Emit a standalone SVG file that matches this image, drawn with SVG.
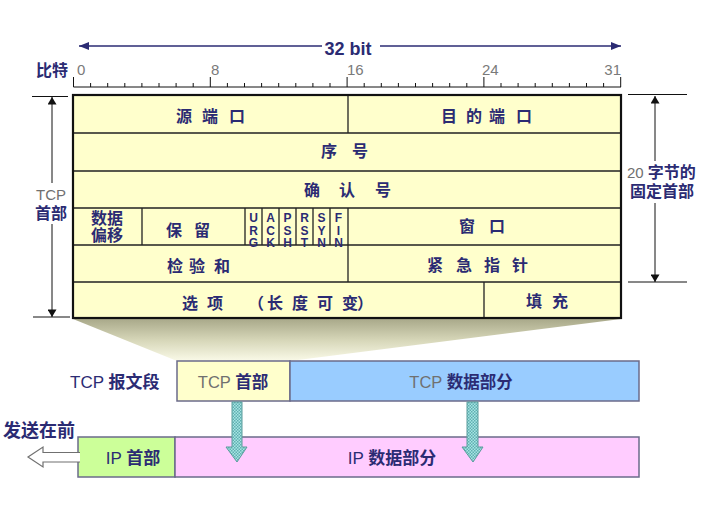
<svg xmlns="http://www.w3.org/2000/svg" width="714" height="510" viewBox="0 0 714 510">
<style>
.cjk{font-family:"Noto Sans CJK SC","Noto Sans",sans-serif;font-weight:bold;fill:#2B2B73;}
.lat{font-family:"Liberation Sans",Arial,sans-serif;}
.gray{fill:#707070;font-weight:normal;}
.num{font-family:"Liberation Sans",Arial,sans-serif;font-size:15px;fill:#7a7a7a;}
.flag{font-family:"Liberation Sans",Arial,sans-serif;font-weight:bold;font-size:12px;letter-spacing:-1.5px;fill:#2B2B73;writing-mode:vertical-rl;text-orientation:upright;}
.cell{fill:#FFFFCC;}
.ln{stroke:#222;stroke-width:1.3;fill:none;}
.thin{stroke:#111;stroke-width:1;fill:none;}
.seg{stroke:#6B6B8A;stroke-width:1.5;}
.cyan{fill:url(#dots);stroke:#5A9C9C;stroke-width:1;}
</style>
<defs>
<marker id="ahB" viewBox="0 0 10 10" refX="10" refY="5" markerWidth="10" markerHeight="10" markerUnits="userSpaceOnUse" orient="auto-start-reverse"><path d="M0,1 L10,5 L0,9 z" fill="#2B2B73"/></marker>
<marker id="ahK" viewBox="0 0 10 12" refX="10" refY="6" markerWidth="11" markerHeight="9" markerUnits="userSpaceOnUse" orient="auto-start-reverse"><path d="M0,0 L10,6 L0,12 z" fill="#111"/></marker>
<linearGradient id="fan" x1="0" y1="0" x2="0" y2="1"><stop offset="0" stop-color="#A9A98A"/><stop offset="0.5" stop-color="#D6D6B8"/><stop offset="1" stop-color="#FAFAE8"/></linearGradient>
<pattern id="dots" width="3" height="3" patternUnits="userSpaceOnUse"><rect width="3" height="3" fill="#A8E4E4"/><rect width="1.5" height="1.5" fill="#5FB0B0"/><rect x="1.5" y="1.5" width="1.5" height="1.5" fill="#5FB0B0"/></pattern>
</defs>

<g id="ruler">
<line x1="322" y1="46" x2="79" y2="46" stroke="#2B2B73" stroke-width="1.3" marker-end="url(#ahB)"/>
<line x1="380" y1="46" x2="621" y2="46" stroke="#2B2B73" stroke-width="1.3" marker-end="url(#ahB)"/>
<text x="348" y="55" class="lat" font-size="18" font-weight="bold" fill="#2B2B73" text-anchor="middle">32 bit</text>
<text x="36" y="76" class="cjk" font-size="16">比特</text>
<text x="77" y="75" class="num">0</text>
<text x="211" y="75" class="num">8</text>
<text x="347" y="75" class="num">16</text>
<text x="482" y="75" class="num">24</text>
<text x="621" y="75" class="num" text-anchor="end">31</text>
<path class="thin" d="M73.5,87 H621 M73.5,77 V87 M210.3,77 V87 M347.1,77 V87 M483.9,77 V87 M620.7,77 V87
M90.6,83 V87 M107.7,83 V87 M124.8,83 V87 M141.9,83 V87 M159,83 V87 M176.1,83 V87 M193.2,83 V87
M227.4,83 V87 M244.5,83 V87 M261.6,83 V87 M278.7,83 V87 M295.8,83 V87 M312.9,83 V87 M330,83 V87
M364.2,83 V87 M381.3,83 V87 M398.4,83 V87 M415.5,83 V87 M432.6,83 V87 M449.7,83 V87 M466.8,83 V87
M501,83 V87 M518.1,83 V87 M535.2,83 V87 M552.3,83 V87 M569.4,83 V87 M586.5,83 V87 M603.6,83 V87"/>
</g>

<g id="funnel"><polygon points="73,319 621,319 290,361 177,361" fill="url(#fan)"/></g>

<g id="header-table">
<rect x="73" y="95" width="548" height="223" class="cell"/>
<path class="ln" d="M73,133 H621 M73,171 H621 M73,208 H621 M73,245 H621 M73,282 H621
M348,95 V133 M348,208 V282 M484,282 V318
M142,208 V245 M245,208 V245 M262,208 V245 M279,208 V245 M296,208 V245 M313,208 V245 M330,208 V245"/>
<rect x="73" y="95" width="548" height="223" fill="none" stroke="#111" stroke-width="2.2"/>
</g>

<g id="src-port"><text class="cjk" font-size="16" y="121.5" x="176 192 202 218 229">源 端 口</text></g>
<g id="dst-port"><text class="cjk" font-size="16" y="121.5" x="441 457 466 482 489 505 516">目 的 端 口</text></g>
<g id="seq"><text class="cjk" font-size="16" y="157" x="321 337 352">序 号</text></g>
<g id="ack"><text class="cjk" font-size="16" y="196" x="304 320 339 355 375">确 认 号</text></g>
<g id="offset"><text class="cjk" font-size="16"><tspan x="91" y="224">数据</tspan><tspan x="91" y="241">偏移</tspan></text></g>
<g id="reserved"><text class="cjk" font-size="16" y="236" x="166 182 194">保 留</text></g>
<g id="flags">
<text class="flag" x="253.5" y="211">URG</text>
<text class="flag" x="270.5" y="211">ACK</text>
<text class="flag" x="287.5" y="211">PSH</text>
<text class="flag" x="304.5" y="211">RST</text>
<text class="flag" x="321.5" y="211">SYN</text>
<text class="flag" x="338.5" y="211">FIN</text>
</g>
<g id="window"><text class="cjk" font-size="16" y="232" x="459 475 489">窗 口</text></g>
<g id="checksum"><text class="cjk" font-size="16" y="272" x="167 183 189 205 214">检 验 和</text></g>
<g id="urgent"><text class="cjk" font-size="16" y="271" x="427 443 456 472 484 500 512">紧 急 指 针</text></g>
<g id="options"><text class="cjk" font-size="16" y="308.5" x="182 198 207 223 248 267 283 292 308 317 333 342 357">选 项 （长 度 可 变）</text></g>
<g id="padding"><text class="cjk" font-size="16" y="306.5" x="526 542 552">填 充</text></g>

<g id="tcp-header-dim">
<path class="thin" d="M32,96.5 H68 M33,317 H70"/>
<line x1="52" y1="183" x2="52" y2="97" stroke="#111" stroke-width="1" marker-end="url(#ahK)"/>
<line x1="52" y1="224" x2="52" y2="317" stroke="#111" stroke-width="1" marker-end="url(#ahK)"/>
<text x="51" y="200" class="lat gray" font-size="15" text-anchor="middle">TCP</text>
<text x="51" y="219" class="cjk" font-size="16" text-anchor="middle">首部</text>
</g>

<g id="fixed-header-dim">
<path class="thin" d="M628,94.5 H687 M628,282 H687"/>
<line x1="655" y1="161" x2="655" y2="96" stroke="#111" stroke-width="1" marker-end="url(#ahK)"/>
<line x1="655" y1="203" x2="655" y2="282" stroke="#111" stroke-width="1" marker-end="url(#ahK)"/>
<text x="627" y="178" font-size="15"><tspan class="lat gray">20 </tspan><tspan class="cjk" font-size="16">字节的</tspan></text>
<text x="630" y="197" class="cjk" font-size="16">固定首部</text>
</g>

<g id="tcp-segment-label"><text x="70" y="388" font-size="17"><tspan class="lat" fill="#2B2B73">TCP </tspan><tspan class="cjk">报文段</tspan></text></g>
<g id="tcp-header-box">
<rect x="177" y="361" width="113" height="40" fill="#FFFFCC" class="seg"/>
<text x="233" y="388" font-size="16.5" text-anchor="middle"><tspan class="lat gray">TCP </tspan><tspan class="cjk">首部</tspan></text>
</g>
<g id="tcp-data-box">
<rect x="290" y="361" width="349" height="40" fill="#99CCFF" class="seg"/>
<text x="461" y="388" font-size="16.5" text-anchor="middle"><tspan class="lat gray">TCP </tspan><tspan class="cjk">数据部分</tspan></text>
</g>
<g id="ip-header-box">
<rect x="78" y="437" width="97" height="40" fill="#CCFF99" class="seg"/>
<text x="133" y="464" font-size="17" text-anchor="middle"><tspan class="lat" fill="#2B2B73">IP </tspan><tspan class="cjk">首部</tspan></text>
</g>
<g id="ip-data-box">
<rect x="175" y="437" width="464" height="40" fill="#FFCCFF" class="seg"/>
<text x="392" y="464" font-size="17" text-anchor="middle"><tspan class="lat" fill="#2B2B73">IP </tspan><tspan class="cjk">数据部分</tspan></text>
</g>
<g id="send-first"><text x="3" y="437" class="cjk" font-size="18">发送在前</text></g>

<g id="connectors">
<path class="cyan" d="M232,402 H242 V447 H247 L237,462 L226,447 H232 Z"/>
<path class="cyan" d="M467,402 H478 V447 H483 L473,462 L462,447 H467 Z"/>
<path d="M80,452.5 H43 V447 L28,457 L43,467 V462 H80" fill="#FFFFFF" stroke="#707070" stroke-width="1.2"/>
</g>
</svg>
